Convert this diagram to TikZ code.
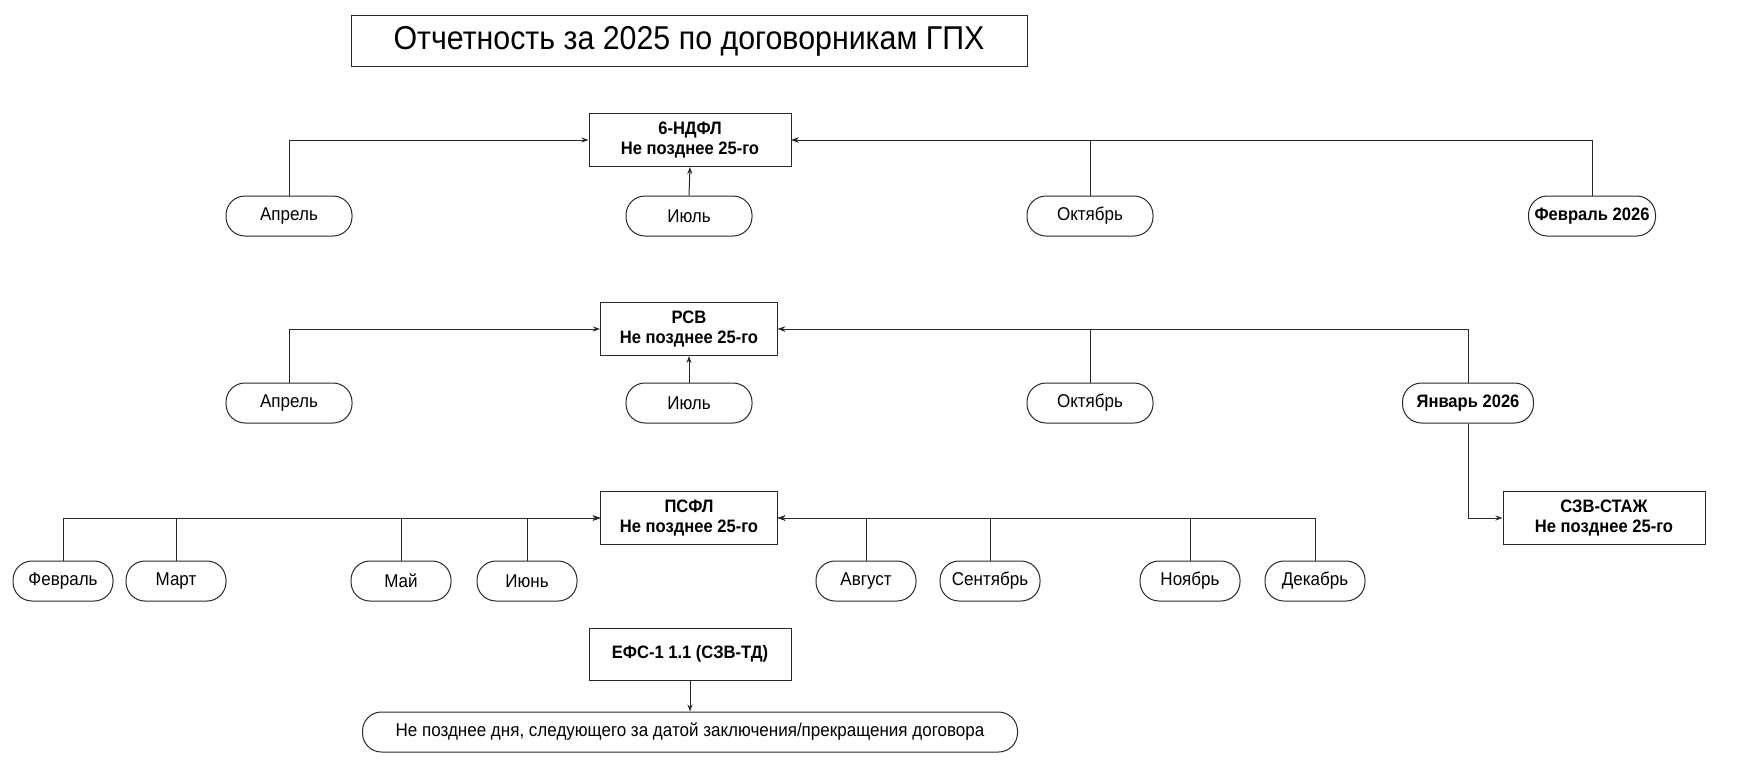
\documentclass[tikz,border=0pt]{standalone}
\usepackage{fontspec}
\setmainfont{Liberation Sans}[FakeStretch=0.92]
\usetikzlibrary{positioning, arrows.meta}
\definecolor{linegray}{RGB}{40,40,40}

\begin{document}
\begin{tikzpicture}[x=1pt, y=-1pt,
    report/.style={draw=linegray, line width=1pt, fill=white, align=center, minimum height=53pt, inner sep=2pt, font=\fontsize{18}{20}\selectfont\bfseries},
    month/.style={draw=linegray, line width=1pt, fill=white, rounded corners=19pt, minimum height=40pt, inner sep=2pt, font=\fontsize{18.5}{20}\selectfont},
    link/.style={-{Stealth[length=7pt, width=5pt]}, line width=1pt, linegray}]
        \useasboundingbox (0,0) rectangle (1742,764);

        % Title
        \node[draw=linegray, line width=1pt, minimum width=676pt, minimum height=51pt, font=\fontsize{33}{36}\selectfont] (title) at (689,41) {Отчетность за 2025 по договорникам ГПХ};

        % 6-NDFL
        \node[report, minimum width=202pt] (ndfl) at (690,140) {6-НДФЛ\\Не позднее 25-го};
        \node[month, minimum width=126pt] (ndflapr) at (289,216) {Апрель};
        \node[month, minimum width=126pt] (ndfljul) at (689,216) {Июль};
        \node[month, minimum width=126pt] (ndfloct) at (1090,216) {Октябрь};
        \node[month, minimum width=127pt, font=\fontsize{18}{20}\selectfont\bfseries] (ndflfeb) at (1592,216) {Февраль 2026};
        \draw[link] (ndflapr.north) |- (ndfl.west);
        \draw[link] (ndfljul.north) -- (ndfl.south);
        \draw[link] (ndfloct.north) |- (ndfl.east);
        \draw[link] (ndflfeb.north) |- (ndfl.east);

        % RSV
        \node[report, minimum width=177pt] (rsv) at (689,329) {РСВ\\Не позднее 25-го};
        \node[month, minimum width=126pt] (rsvapr) at (289,403) {Апрель};
        \node[month, minimum width=126pt] (rsvjul) at (689,403) {Июль};
        \node[month, minimum width=126pt] (rsvoct) at (1090,403) {Октябрь};
        \node[month, minimum width=131pt, font=\fontsize{18}{20}\selectfont\bfseries] (rsvjan) at (1468,403) {Январь 2026};
        \draw[link] (rsvapr.north) |- (rsv.west);
        \draw[link] (rsvjul.north) -- (rsv.south);
        \draw[link] (rsvoct.north) |- (rsv.east);
        \draw[link] (rsvjan.north) |- (rsv.east);

        % SZV-STAZh
        \node[report, minimum width=202pt] (szv) at (1604,518) {СЗВ-СТАЖ\\Не позднее 25-го};
        \draw[link] (rsvjan.south) |- (szv.west);

        % PSFL
        \node[report, minimum width=177pt] (psfl) at (689,518) {ПСФЛ\\Не позднее 25-го};
        \foreach \name/\px/\txt in {feb/63/Февраль, mar/176/Март, may/401/Май, jun/527/Июнь} {
            \node[month, minimum width=100pt] (psfl\name) at (\px,581) {\txt};
            \draw[link] (psfl\name.north) |- (psfl.west);
        }
        \foreach \name/\px/\txt in {aug/866/Август, sep/990/Сентябрь, nov/1190/Ноябрь, dec/1315/Декабрь} {
            \node[month, minimum width=100pt] (psfl\name) at (\px,581) {\txt};
            \draw[link] (psfl\name.north) |- (psfl.east);
        }

        % EFS-1
        \node[report, minimum width=202pt, minimum height=52pt] (efs) at (690,654) {ЕФС-1 1.1 (СЗВ-ТД)};
        \node[month, minimum width=655pt] (efsterm) at (690,732) {Не позднее дня, следующего за датой заключения/прекращения договора};
        \draw[link] (efs.south) -- (efsterm.north);
    \end{tikzpicture}
\end{document}
